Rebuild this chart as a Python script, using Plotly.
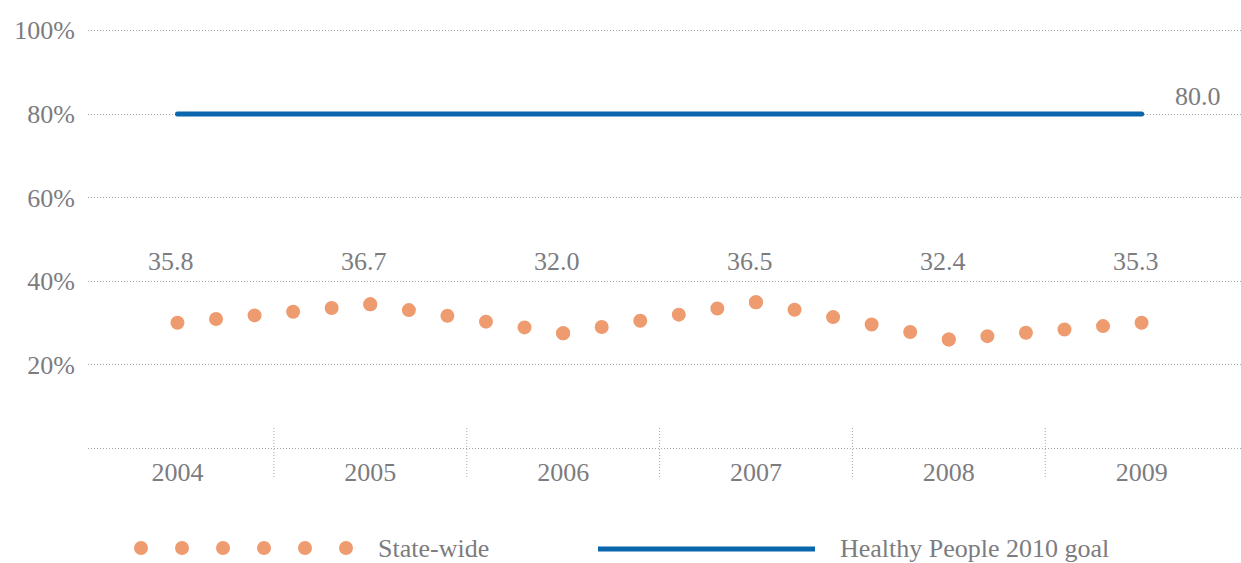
import math
import plotly.graph_objects as go

# ---------------- data ----------------
years = [2004, 2005, 2006, 2007, 2008, 2009]
state_wide = [30.1, 34.5, 27.6, 35.0, 26.1, 30.1]          # dotted series (position in picture)
state_labels = ["35.8", "36.7", "32.0", "36.5", "32.4", "35.3"]  # printed value labels
goal_value = 80.0
goal = [goal_value] * len(years)
y_tick_vals = [0, 20, 40, 60, 80, 100]
y_tick_text = ["", "20%", "40%", "60%", "80%", "100%"]
legend_names = ["State-wide", "Healthy People 2010 goal"]

# ---------------- style ----------------
W, H = 1241, 563
ML, MR, MT, MB = 88, 0, 22, 106
X_RANGE = [2003.536, 2009.515]
Y_RANGE = [-2, 102]
FONT = "Liberation Serif, Times New Roman, serif"
GREY = "#7c7c7f"
GRID = "#a6a6a6"
DOT_COLOR = "#EE9B6F"
GOAL_COLOR = "#0A66AD"
DOT_SIZE = 14

plot_w = W - ML - MR
plot_h = H - MT - MB
px_per_x = plot_w / (X_RANGE[1] - X_RANGE[0])
px_per_y = plot_h / (Y_RANGE[1] - Y_RANGE[0])


def paper_x(px):
    return (px - ML) / plot_w


def paper_y(py):
    return (H - MB - py) / plot_h


fig = go.Figure()

# dotted state-wide series: one segment per year pair, 5 gaps per segment
for i in range(len(years) - 1):
    dx = (years[i + 1] - years[i]) * px_per_x
    dy = (state_wide[i + 1] - state_wide[i]) * px_per_y
    seg_len = math.hypot(dx, dy)
    gap = seg_len / 5 - 0.02
    fig.add_trace(go.Scatter(
        x=years[i:i + 2], y=state_wide[i:i + 2], mode="lines",
        line=dict(color=DOT_COLOR, width=DOT_SIZE, dash=f"0px,{gap:.2f}px"),
        hoverinfo="skip", showlegend=False,
    ))

# goal line
fig.add_trace(go.Scatter(
    x=years, y=goal, mode="lines",
    line=dict(color=GOAL_COLOR, width=5),
    hoverinfo="skip", showlegend=False,
))

# value labels
for yr, lab in zip(years, state_labels):
    fig.add_annotation(x=yr, y=44.8, text=lab, showarrow=False, xshift=-6,
                       font=dict(family=FONT, size=26, color=GREY))
fig.add_annotation(x=years[-1], y=goal_value, text=f"{goal_value:.1f}", showarrow=False,
                   xanchor="left", xshift=31, yshift=18,
                   font=dict(family=FONT, size=26, color=GREY))

# category separators
for a, b in zip(years[:-1], years[1:]):
    fig.add_shape(type="line", xref="x", yref="paper", x0=(a + b) / 2, x1=(a + b) / 2,
                  y0=paper_y(428), y1=paper_y(477),
                  line=dict(color=GRID, width=1, dash="1px,2px"))

# legend (drawn)
for k in range(6):
    cx = 141 + 41 * k
    fig.add_shape(type="circle", xref="paper", yref="paper",
                  xsizemode="pixel", ysizemode="pixel",
                  xanchor=paper_x(cx), yanchor=paper_y(548),
                  x0=-DOT_SIZE / 2, x1=DOT_SIZE / 2, y0=-DOT_SIZE / 2, y1=DOT_SIZE / 2,
                  fillcolor=DOT_COLOR, line=dict(width=0))
fig.add_shape(type="line", xref="paper", yref="paper",
              x0=paper_x(598), x1=paper_x(815), y0=paper_y(549), y1=paper_y(549),
              line=dict(color=GOAL_COLOR, width=5))
fig.add_annotation(xref="paper", yref="paper", x=paper_x(376), y=paper_y(548),
                   xanchor="left", yanchor="middle", text=legend_names[0], showarrow=False,
                   font=dict(family=FONT, size=26, color=GREY))
fig.add_annotation(xref="paper", yref="paper", x=paper_x(838), y=paper_y(548),
                   xanchor="left", yanchor="middle", text=legend_names[1], showarrow=False,
                   font=dict(family=FONT, size=26, color=GREY))

fig.update_layout(
    width=W, height=H,
    margin=dict(l=ML, r=MR, t=MT, b=MB),
    paper_bgcolor="white", plot_bgcolor="white",
    showlegend=False,
    font=dict(family=FONT, size=26, color=GREY),
    xaxis=dict(range=X_RANGE, tickvals=years, ticktext=[str(y) for y in years],
               showgrid=False, zeroline=False, showline=False, ticks="",
               tickfont=dict(family=FONT, size=26, color=GREY), ticklabelstandoff=-3),
    yaxis=dict(range=Y_RANGE, tickvals=y_tick_vals, ticktext=y_tick_text,
               showgrid=True, gridcolor=GRID, gridwidth=1, griddash="1px,2px",
               zeroline=False, showline=False, ticks="",
               tickfont=dict(family=FONT, size=26, color=GREY), ticklabelstandoff=12),
)

css = "body{margin:0;} .scatterlayer .js-line{stroke-linecap:round;}"
post = ("var s=document.createElement('style');s.innerHTML='" + css +
        "';document.head.appendChild(s);")
fig.write_html("out.html", post_script=post, config={"displayModeBar": False})
